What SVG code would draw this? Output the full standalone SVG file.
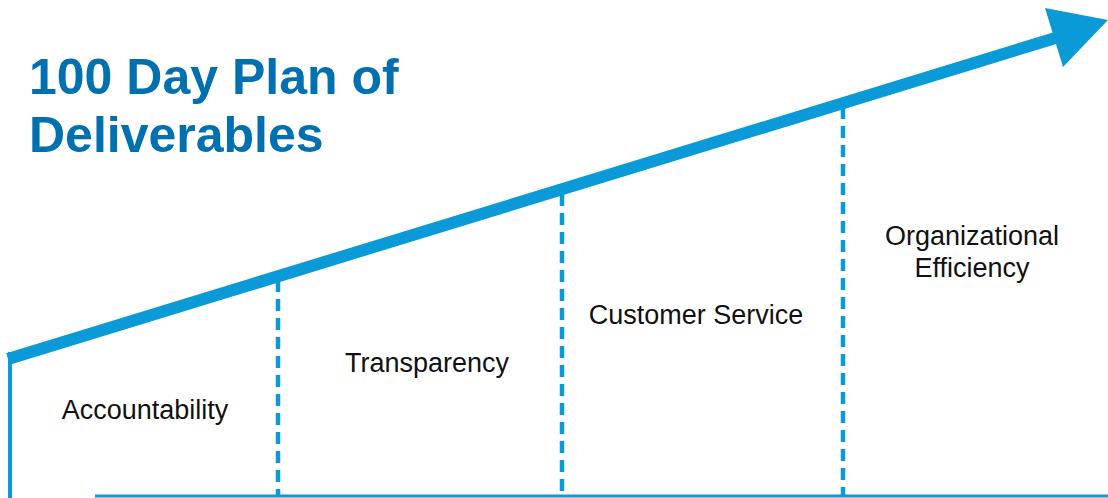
<svg xmlns="http://www.w3.org/2000/svg" width="1108" height="498" viewBox="0 0 1108 498">
<style>
.title{font-family:"Liberation Sans",Arial,sans-serif;font-weight:bold;font-size:50px;fill:#0070b0}
.lbl{font-family:"Liberation Sans",Arial,sans-serif;font-size:27px;fill:#111}
.dash{stroke:#0a9ad8;stroke-width:4.5;stroke-dasharray:12 7;fill:none}
</style>
<rect width="1108" height="498" fill="#fff"/>
<g id="title">
<text class="title" x="29" y="94">100 Day Plan of</text>
<text class="title" x="29" y="152">Deliverables</text>
</g>
<g id="connectors">
<line x1="10" y1="352" x2="10" y2="498" stroke="#0a9ad8" stroke-width="4"/>
<line x1="95" y1="496" x2="1108" y2="496" stroke="#0a9ad8" stroke-width="3"/>
<line x1="8" y1="359" x2="1062" y2="36" stroke="#0a9ad8" stroke-width="12"/>
<polygon points="1045,8 1108,20 1063,67" fill="#0a9ad8"/>
<line class="dash" x1="278" y1="280" x2="278" y2="496"/>
<line class="dash" x1="562" y1="194" x2="562" y2="496"/>
<line class="dash" x1="843" y1="107" x2="843" y2="496"/>
</g>
<g id="accountability"><text class="lbl" x="145" y="419" text-anchor="middle">Accountability</text></g>
<g id="transparency"><text class="lbl" x="427" y="372" text-anchor="middle">Transparency</text></g>
<g id="customer-service"><text class="lbl" x="696" y="324" text-anchor="middle">Customer Service</text></g>
<g id="organizational-efficiency"><text class="lbl" x="972" y="245" text-anchor="middle">Organizational</text><text class="lbl" x="972" y="277" text-anchor="middle">Efficiency</text></g>
</svg>
